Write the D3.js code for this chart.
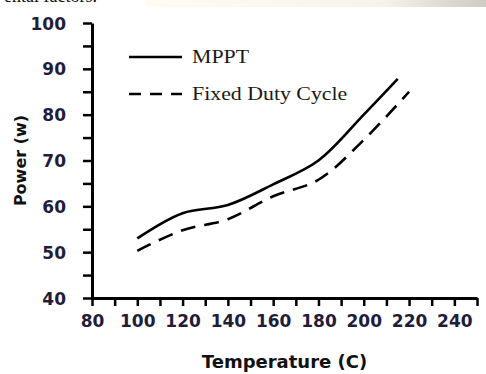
<!DOCTYPE html>
<html>
<head>
<meta charset="utf-8">
<script src="https://cdn.jsdelivr.net/npm/d3@7"></script>
<style>
  html, body { margin: 0; padding: 0; background: #fff; }
  svg { display: block; }
</style>
</head>
<body>
<svg id="chart" width="486" height="374"></svg>
<script>
// values
const temps = [100, 120, 140, 160, 180, 200, 215];
const mppt = [53, 58.5, 60.3, 64.8, 70, 80, 87.8];
const fixedTemps = [100, 120, 140, 160, 180, 200, 220];
const fixedDuty = [50.3, 54.8, 57.2, 62.2, 65.8, 74.5, 85];
const xTicks = [80, 100, 120, 140, 160, 180, 200, 220, 240];
const yTicks = [40, 50, 60, 70, 80, 90, 100];
const legendLabels = ["MPPT", "Fixed Duty Cycle"];

const svg = d3.select("#chart");
const W = 486, H = 374;
const m = { left: 92, right: 9, top: 23, bottom: 76 };

// cropped caption strip from the page above the figure
const grad = svg.append("defs").append("linearGradient").attr("id", "strip");
grad.append("stop").attr("offset", "0%").attr("stop-color", "#fffdf3");
grad.append("stop").attr("offset", "70%").attr("stop-color", "#f6f3ea");
grad.append("stop").attr("offset", "100%").attr("stop-color", "#cfcac4");
svg.append("rect").attr("x", 146).attr("y", 0).attr("width", W - 146).attr("height", 7)
  .attr("fill", "url(#strip)");
svg.append("text").attr("x", 4).attr("y", 2)
  .attr("font-family", "Liberation Serif").attr("font-size", 18).attr("fill", "#111")
  .text("ental factors.");

const x = d3.scaleLinear().domain([80, 250]).range([m.left, W - m.right]);
const y = d3.scaleLinear().domain([40, 100]).range([H - m.bottom, m.top]);

const tickColor = "#1f1d3c";

// x axis
const gx = svg.append("g").attr("transform", `translate(0,${y(40)})`)
  .call(d3.axisBottom(x).tickValues(d3.range(80, 251, 10)).tickSize(8).tickSizeOuter(0)
    .tickFormat((d) => (xTicks.includes(d) ? d : "")));
gx.select(".domain").attr("stroke", "#000").attr("stroke-width", 3);
gx.selectAll(".tick line").attr("stroke", "#000").attr("stroke-width", 2.5);
gx.selectAll(".tick text").attr("y", 29).attr("dy", 0)
  .attr("font-family", "DejaVu Sans").attr("font-weight", "bold")
  .attr("font-size", 17).attr("fill", tickColor);

// y axis
const gy = svg.append("g").attr("transform", `translate(${x(80)},0)`)
  .call(d3.axisLeft(y).tickValues(d3.range(40, 101, 5)).tickSize(9).tickSizeOuter(0)
    .tickFormat((d) => (yTicks.includes(d) ? d : "")));
gy.select(".domain").attr("stroke", "#000").attr("stroke-width", 3);
gy.selectAll(".tick line").attr("stroke", "#000").attr("stroke-width", 2.5);
gy.selectAll(".tick text").attr("x", -26).attr("dy", "0.36em")
  .attr("font-family", "DejaVu Sans").attr("font-weight", "bold")
  .attr("font-size", 17).attr("fill", tickColor);

// axis titles
svg.append("text")
  .attr("x", (x(80) + x(250)) / 2).attr("y", 368)
  .attr("text-anchor", "middle")
  .attr("font-family", "DejaVu Sans").attr("font-weight", "bold").attr("font-size", 18)
  .attr("fill", "#111")
  .text("Temperature (C)");
svg.append("text")
  .attr("transform", `translate(26,${(y(40) + y(100)) / 2}) rotate(-90)`)
  .attr("text-anchor", "middle")
  .attr("font-family", "DejaVu Sans").attr("font-weight", "bold").attr("font-size", 16)
  .attr("fill", "#111")
  .text("Power (w)");

// series
const line = d3.line().x((d) => x(d[0])).y((d) => y(d[1])).curve(d3.curveCatmullRom.alpha(0.5));
const seriesData = [
  { pts: d3.zip(temps, mppt), dash: null },
  { pts: d3.zip(fixedTemps, fixedDuty), dash: "15,9" },
];
svg.selectAll("path.series").data(seriesData).join("path")
  .attr("class", "series")
  .attr("d", (d) => line(d.pts))
  .attr("fill", "none").attr("stroke", "#000").attr("stroke-width", 2.6)
  .attr("stroke-dasharray", (d) => d.dash);

// legend
const lg = svg.append("g");
legendLabels.forEach((lab, i) => {
  const ly = 57 + i * 37;
  lg.append("line").attr("x1", 129).attr("x2", 182).attr("y1", ly).attr("y2", ly)
    .attr("stroke", "#000").attr("stroke-width", 2.6)
    .attr("stroke-dasharray", i ? "12,9" : null);
  lg.append("text").attr("x", 192).attr("y", ly + 6)
    .attr("font-family", "Liberation Serif").attr("font-size", 19)
    .attr("transform", `translate(${192 * -0.15},0) scale(1.15,1)`)
    .attr("fill", "#1a1a1a")
    .text(lab);
});
</script>
</body>
</html>
